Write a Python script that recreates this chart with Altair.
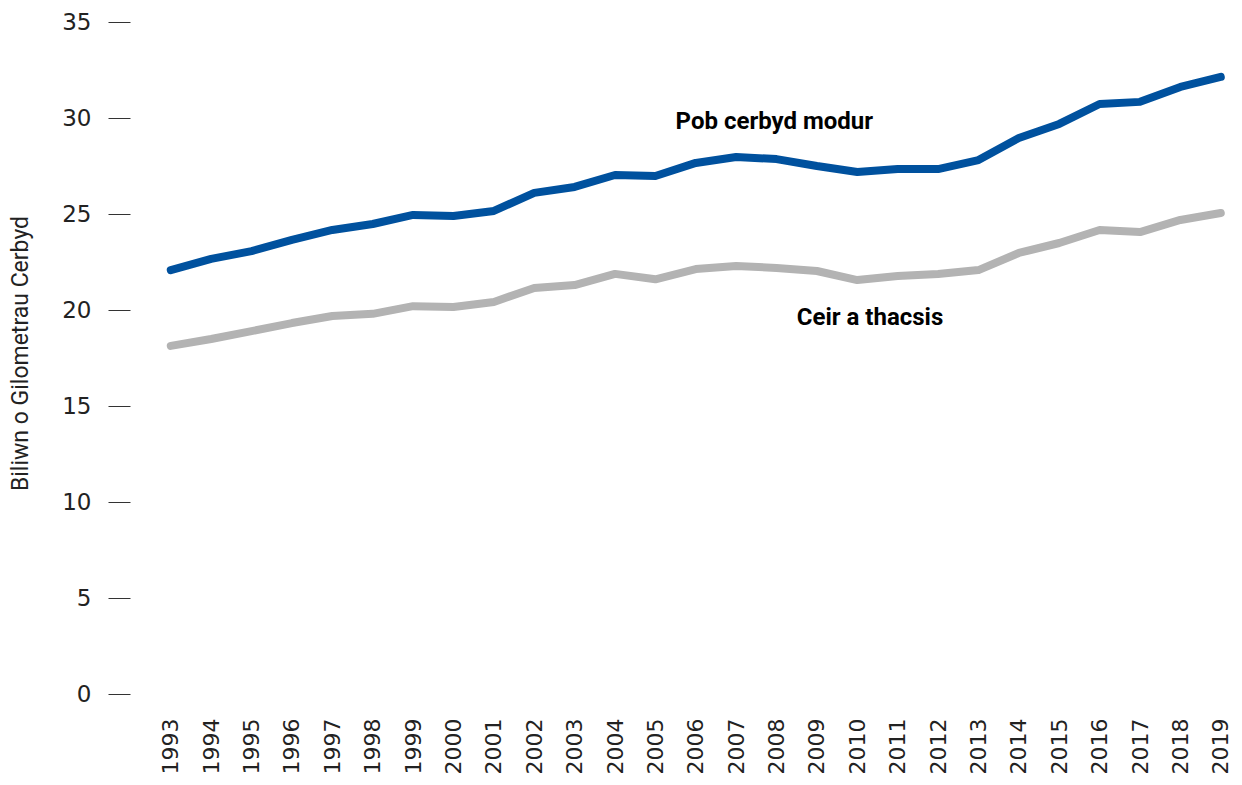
import altair as alt
import pandas as pd

years = list(range(1993, 2020))
pob_cerbyd = [22.08, 22.66, 23.07, 23.65, 24.17, 24.48, 24.95, 24.90, 25.16, 26.10,
              26.41, 27.03, 26.98, 27.66, 27.97, 27.86, 27.50, 27.19, 27.34, 27.34,
              27.81, 28.96, 29.69, 30.73, 30.84, 31.62, 32.14]
ceir_tacsis = [18.13, 18.49, 18.90, 19.32, 19.69, 19.80, 20.20, 20.16, 20.42, 21.15,
               21.30, 21.88, 21.60, 22.13, 22.29, 22.19, 22.03, 21.56, 21.77, 21.88,
               22.08, 22.97, 23.49, 24.17, 24.06, 24.69, 25.05]
series_names = ["Pob cerbyd modur", "Ceir a thacsis"]
series_colors = ["#00519e", "#b3b3b3"]
label_x = [2005.5, 2008.5]
label_y = [29.79, 19.58]
y_ticks = [0, 5, 10, 15, 20, 25, 30, 35]

rows = []
for name, vals in zip(series_names, [pob_cerbyd, ceir_tacsis]):
    for yr, v in zip(years, vals):
        rows.append({"Blwyddyn": yr, "Gwerth": v, "Cyfres": name})
df = pd.DataFrame(rows)
labels = pd.DataFrame({"Cyfres": series_names, "x": label_x, "y": label_y})

xscale = alt.Scale(domain=[1991.99, 2019.08], nice=False, zero=False)
yscale = alt.Scale(domain=[0, 35], nice=False)

lines = alt.Chart(df).mark_line(strokeWidth=8, strokeCap="round", strokeJoin="round").encode(
    x=alt.X("Blwyddyn:Q", scale=xscale,
            axis=alt.Axis(values=years, format="d", labelAngle=-90, labelAlign="right",
                          labelBaseline="middle", labelFontSize=22, labelColor="#222222",
                          labelFont="DejaVu Sans", ticks=False, domain=False, grid=False,
                          labelPadding=24, title=None, labelOverlap=False, labelFlush=False)),
    y=alt.Y("Gwerth:Q", scale=yscale,
            axis=alt.Axis(values=y_ticks, labelFontSize=23,
                          labelColor="#222222", labelFont="DejaVu Sans",
                          ticks=True, tickSize=22, tickColor="#333333", tickWidth=1,
                          domain=False, grid=False, labelPadding=17,
                          title="Biliwn o Gilometrau Cerbyd", titleFontSize=23,
                          titleFont="Roboto", titleFontWeight="normal",
                          titleColor="#222222", titleX=-110, titleY=331,
                          titleAngle=-90, titleAlign="center", titleBaseline="middle")),
    color=alt.Color("Cyfres:N", scale=alt.Scale(domain=series_names, range=series_colors),
                    legend=None),
)

text = alt.Chart(labels).mark_text(align="left", baseline="middle", fontSize=24,
                                   fontWeight="bold", font="Roboto",
                                   color="#000000").encode(
    x=alt.X("x:Q", scale=xscale),
    y=alt.Y("y:Q", scale=yscale),
    text="Cyfres:N",
)

chart = alt.layer(lines, text).properties(
    width=1094, height=672,
    autosize=alt.AutoSizeParams(type="none"),
    padding={"left": 122, "top": 14, "right": 10, "bottom": 91},
    background="white",
).configure_view(stroke=None, strokeWidth=0)

chart.save("out.html", embed_options={"renderer": "svg", "actions": False})
